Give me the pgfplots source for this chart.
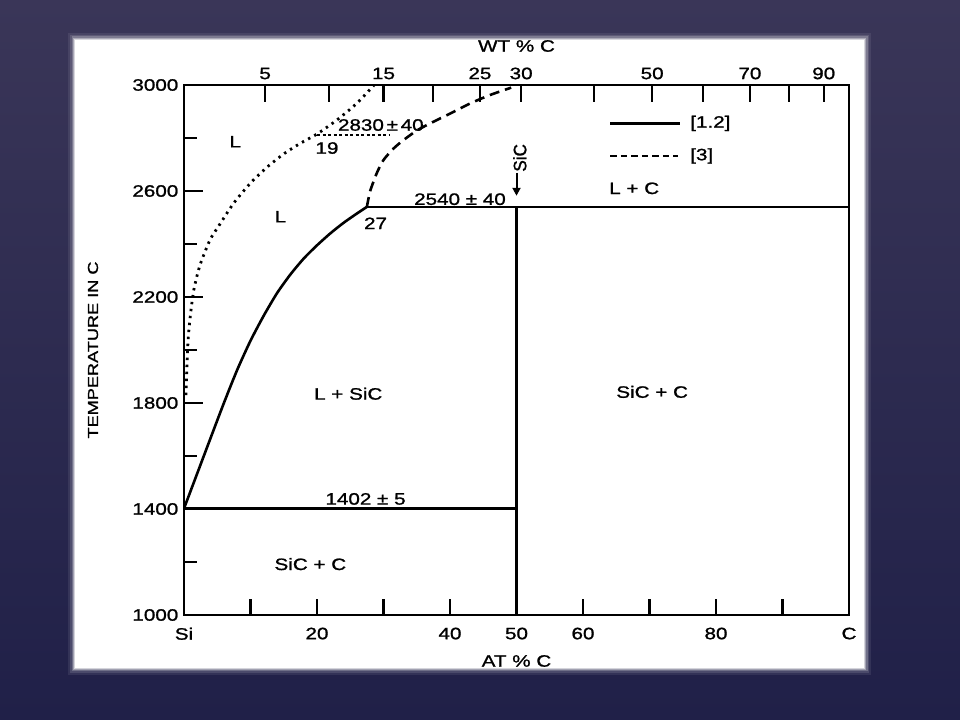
\documentclass[border=0pt]{standalone}
\usepackage{pgfplots}
\pgfplotsset{compat=1.18}
\usepackage{fontspec}
\usepackage{graphicx}
\setmainfont{Liberation Sans}[FakeStretch=1.25,FakeBold=1.2]
\newfontfamily\ylfont{Liberation Sans}[FakeStretch=1.25,FakeBold=1.3]
\newfontfamily\narrowfont{Liberation Sans}[FakeStretch=0.95,FakeBold=1.3]
\usetikzlibrary{arrows.meta}
\definecolor{bgtop}{RGB}{58,54,88}
\definecolor{bgbot}{RGB}{32,32,72}
\pgfplotsset{every axis/.append style={
  /pgf/number format/assume math mode=true,
  /pgf/number format/1000 sep={},
  at={(184bp,105bp)}, anchor=south west, scale only axis,
  width=665bp, height=530bp,
  xmin=0, xmax=100, ymin=1000, ymax=3000,
  axis line style={line width=2.2bp, black},
  tick style={black, line width=2.2bp}}}
\begin{document}
\fontsize{16.5bp}{19bp}\selectfont
\begin{tikzpicture}
\shade[top color=bgtop,bottom color=bgbot] (0bp,0bp) rectangle (960bp,720bp);
\foreach \d/\o in {7/0.08,5/0.12,3.5/0.2,2.2/0.35,1/0.55}{
  \fill[white,opacity=\o] (75bp-\d bp,52bp-\d bp) rectangle (864bp+\d bp,680bp+\d bp);}
\fill[white] (75bp,52bp) rectangle (864bp,680bp);

% main axis
\begin{axis}[
  xtick=\empty,
  ytick={1000,1400,1800,2200,2600,3000},
  minor ytick={1200,1600,2000,2400,2800},
  ytick pos=left, tick align=inside,
  major tick length=19bp, minor tick length=13bp,
]
% [1.2] solid liquidus
\addplot[black, line width=2.6bp, smooth, tension=0.4] coordinates {
 (0,1402) (2,1535) (4,1668) (6,1800) (8,1925) (10,2035) (12,2130) (14,2215)
 (16,2285) (18,2345) (20,2395) (22,2440) (24,2480) (26,2515) (27.5,2540)};
\addplot[black, line width=2.4bp] coordinates {(27.5,2540) (100,2540)};
\addplot[black, line width=2.4bp] coordinates {(50,1000) (50,2540)};
\addplot[black, line width=2.4bp] coordinates {(0,1402) (50,1402)};
% [3] dotted liquidus
\addplot[black, line width=2.8bp, smooth, tension=0.4, dash pattern=on 2.4bp off 4.6bp] coordinates {
 (0.3,1830) (0.45,1950) (0.65,2050) (1.0,2140) (1.5,2230) (2.4,2320) (3.9,2415)
 (5.4,2475) (7.5,2555) (10,2630) (12.5,2690) (15,2740) (17.5,2780) (20,2815)
 (23,2868) (26,2931) (28.6,3000)};
\addplot[black, line width=2.2bp, dash pattern=on 3bp off 2.5bp] coordinates {(20,2812) (30.8,2812)};
% [3] dashed
\addplot[black, line width=2.6bp, smooth, tension=0.4, dash pattern=on 10bp off 6bp] coordinates {
 (27.5,2540) (28,2600) (29,2668) (30,2717) (31.5,2760) (33,2792) (35,2828)
 (37,2855) (40,2892) (43,2930) (46,2962) (49.2,2990)};

% labels
\node at (axis cs:7.7,2786) {L};
\node at (axis cs:21.5,2762) {19};
\node at (axis cs:29.6,2849) {2830\,±\,40};
\node at (axis cs:14.5,2503) {L};
\node at (axis cs:28.8,2478) {27};
\node at (axis cs:41.5,2569) {2540 ± 40};
\node at (axis cs:67.7,2610) {L + C};
\node[anchor=west, inner sep=0pt] at (axis cs:76.1,2855) {[1.2]};
\node[anchor=west, inner sep=0pt] at (axis cs:76.1,2732) {[3]};
\draw[line width=2.6bp] (axis cs:64.1,2855) -- (axis cs:74.6,2855);
\draw[line width=2.6bp, dash pattern=on 6.5bp off 4bp] (axis cs:64.1,2732) -- (axis cs:74.3,2732);
\node at (axis cs:24.7,1835) {L + SiC};
\node at (axis cs:70.4,1842) {SiC + C};
\node at (axis cs:27.3,1438) {1402 ± 5};
\node at (axis cs:19.0,1192) {SiC + C};
\node[rotate=90, font=\narrowfont\fontsize{18bp}{20bp}\selectfont] at (axis cs:50.5,2725) {SiC};
\draw[-{Triangle[length=8bp,width=8bp]}, line width=2bp] (axis cs:50,2668) -- (axis cs:50,2582);
\end{axis}

% bottom x axis (AT % C)
\begin{axis}[
  axis x line*=bottom, axis y line=none,
  xtick={0,10,...,100},
  xticklabels={Si,,20,,40,50,60,,80,,C},
  tick align=inside, major tick length=16bp,
  xticklabel style={yshift=-7bp},
]
\end{axis}

% top x axis (WT % C)
\begin{axis}[
  axis x line*=top, axis y line=none,
  xtick={12.2,21.8,30.0,37.5,44.5,50.7,61.7,70.4,78.0,85.1,91.0,96.2},
  xticklabels={5,,15,,25,30,,50,,70,,90},
  tick align=inside, major tick length=17bp,
]
\end{axis}

\node at (516.5bp,59bp) {AT \% C};
\node at (516.5bp,674bp) {WT \% C};
\node[rotate=90, font=\ylfont\fontsize{14.5bp}{16bp}\selectfont] at (93bp,370bp) {TEMPERATURE IN C};
\end{tikzpicture}
\end{document}
